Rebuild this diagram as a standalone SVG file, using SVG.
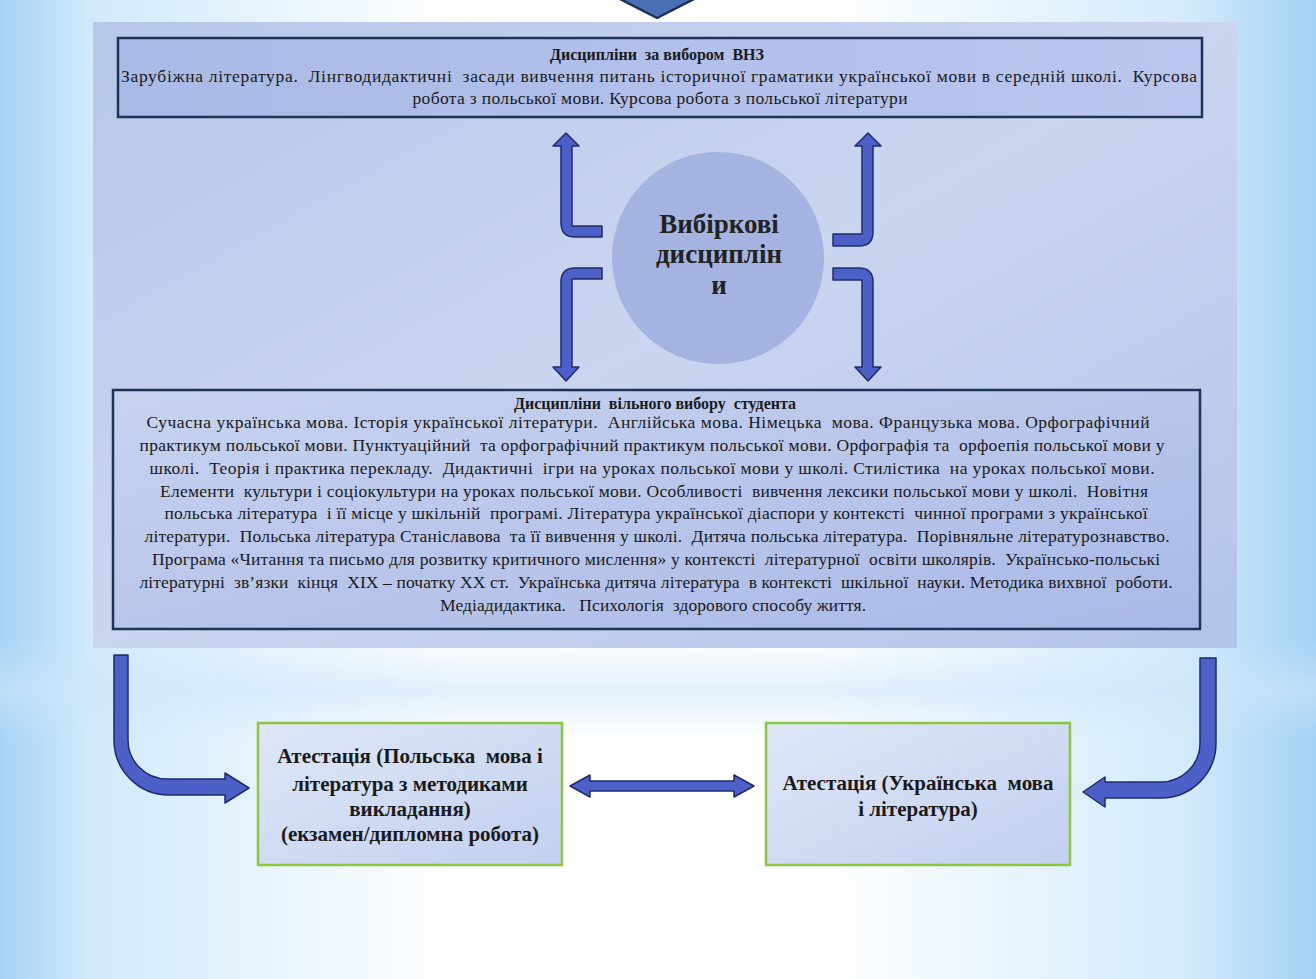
<svg xmlns="http://www.w3.org/2000/svg" width="1316" height="979" viewBox="0 0 1316 979">
<defs>
<linearGradient id="bg" x1="0" y1="0" x2="1" y2="0">
<stop offset="0" stop-color="#a6d3f5"/>
<stop offset="0.07" stop-color="#d2eafb"/>
<stop offset="0.35" stop-color="#ffffff"/>
<stop offset="0.62" stop-color="#ffffff"/>
<stop offset="0.9" stop-color="#d4ebfb"/>
<stop offset="1" stop-color="#a3d1f4"/>
</linearGradient>
<linearGradient id="band" x1="0" y1="0" x2="0" y2="1">
<stop offset="0" stop-color="#cfe6fa" stop-opacity="0"/>
<stop offset="0.5" stop-color="#cfe6fa" stop-opacity="0.6"/>
<stop offset="1" stop-color="#cfe6fa" stop-opacity="0"/>
</linearGradient>
<linearGradient id="panel" x1="0" y1="0" x2="1" y2="1">
<stop offset="0" stop-color="#b7c7ea"/>
<stop offset="0.5" stop-color="#cad5ef"/>
<stop offset="1" stop-color="#b3c3e9"/>
</linearGradient>
<linearGradient id="topbox" x1="0" y1="0" x2="1" y2="0">
<stop offset="0" stop-color="#a9bae6"/>
<stop offset="1" stop-color="#bac6ee"/>
</linearGradient>
<linearGradient id="botbox" x1="0" y1="0" x2="1" y2="1">
<stop offset="0" stop-color="#c8d3f0"/>
<stop offset="1" stop-color="#a9b9e6"/>
</linearGradient>
<linearGradient id="greenbox" x1="0" y1="0" x2="1" y2="1">
<stop offset="0" stop-color="#dfe7f7"/>
<stop offset="1" stop-color="#c2d0ef"/>
</linearGradient>
<style>
.t{font-family:"Liberation Serif","Times New Roman",serif;fill:#1a1a1a;white-space:pre}
.s{font-size:17.5px}
.b{font-weight:bold}
.c{font-size:27px;font-weight:bold;fill:#222}
.g{font-size:21px;font-weight:bold}
.box{stroke:#1c3557;stroke-width:2.5}
.gbox{fill:url(#greenbox);stroke:#8dc63f;stroke-width:2.5}
.arr{fill:#4d60c8;stroke:#1f2b6e;stroke-width:1.5;stroke-linejoin:round}
</style>
</defs>
<rect x="0" y="0" width="1316" height="979" fill="url(#bg)"/>
<rect x="0" y="640" width="1316" height="100" fill="url(#band)"/>
<polygon points="618,-2 696,-2 657,18" fill="#4a6fb5" stroke="#1d3158" stroke-width="2.5" stroke-linejoin="round"/>
<rect id="panel-bg" x="93" y="22" width="1144" height="626" fill="url(#panel)"/>

<g id="node-vnz">
<rect class="box" x="118" y="38" width="1084" height="79" fill="url(#topbox)"/>
<text class="t b" x="657" y="60" text-anchor="middle" font-size="16">Дисципліни  за вибором  ВНЗ</text>
<text class="t s" x="659" y="82" text-anchor="middle" textLength="1076" lengthAdjust="spacing">Зарубіжна література.  Лінгводидактичні  засади вивчення питань історичної граматики української мови в середній школі.  Курсова</text>
<text class="t s" x="660" y="104" text-anchor="middle" textLength="495" lengthAdjust="spacing">робота з польської мови. Курсова робота з польської літератури</text>
</g>

<g id="node-center">
<circle cx="718" cy="258" r="106" fill="#a4b3e0"/>
<text class="t c" x="719" y="233" text-anchor="middle">Вибіркові</text>
<text class="t c" x="719" y="263" text-anchor="middle">дисциплін</text>
<text class="t c" x="719" y="294" text-anchor="middle">и</text>
</g>

<g id="node-student">
<rect class="box" x="113" y="390" width="1087" height="239" fill="url(#botbox)"/>
<text class="t b" x="655" y="409" text-anchor="middle" font-size="16">Дисципліни  вільного вибору  студента</text>
<text class="t s" x="648" y="428" text-anchor="middle" textLength="1003" lengthAdjust="spacing">Сучасна українська мова. Історія української літератури.  Англійська мова. Німецька  мова. Французька мова. Орфографічний</text>
<text class="t s" x="652" y="451" text-anchor="middle" textLength="1025" lengthAdjust="spacing">практикум польської мови. Пунктуаційний  та орфографічний практикум польської мови. Орфографія та  орфоепія польської мови у</text>
<text class="t s" x="652" y="474" text-anchor="middle" textLength="1005" lengthAdjust="spacing">школі.  Теорія і практика перекладу.  Дидактичні  ігри на уроках польської мови у школі. Стилістика  на уроках польської мови.</text>
<text class="t s" x="654" y="497" text-anchor="middle" textLength="988" lengthAdjust="spacing">Елементи  культури і соціокультури на уроках польської мови. Особливості  вивчення лексики польської мови у школі.  Новітня</text>
<text class="t s" x="656" y="519" text-anchor="middle" textLength="983" lengthAdjust="spacing">польська література  і її місце у шкільній  програмі. Література української діаспори у контексті  чинної програми з української</text>
<text class="t s" x="657" y="542" text-anchor="middle" textLength="1025" lengthAdjust="spacing">літератури.  Польська література Станіславова  та її вивчення у школі.  Дитяча польська література.  Порівняльне літературознавство.</text>
<text class="t s" x="656" y="565" text-anchor="middle" textLength="1008" lengthAdjust="spacing">Програма «Читання та письмо для розвитку критичного мислення» у контексті  літературної  освіти школярів.  Українсько-польські</text>
<text class="t s" x="656" y="588" text-anchor="middle" textLength="1033" lengthAdjust="spacing">літературні  зв’язки  кінця  XIX – початку XX ст.  Українська дитяча література  в контексті  шкільної  науки. Методика вихвної  роботи.</text>
<text class="t s" x="653" y="611" text-anchor="middle" textLength="426" lengthAdjust="spacing">Медіадидактика.   Психологія  здорового способу життя.</text>
</g>

<g id="node-att-polish">
<rect class="gbox" x="258" y="723" width="304" height="142"/>
<text class="t g" x="410" y="763" text-anchor="middle">Атестація (Польська  мова і</text>
<text class="t g" x="410" y="791" text-anchor="middle">література з методиками</text>
<text class="t g" x="410" y="816" text-anchor="middle">викладання)</text>
<text class="t g" x="410" y="841" text-anchor="middle">(екзамен/дипломна робота)</text>
</g>

<g id="node-att-ukr">
<rect class="gbox" x="766" y="723" width="304" height="142"/>
<text class="t g" x="918" y="790" text-anchor="middle">Атестація (Українська  мова</text>
<text class="t g" x="918" y="816" text-anchor="middle">і література)</text>
</g>

<g id="connectors">
<path class="arr" d="M566,133 L579,146 L572,146 L572,226 L602,226 L602,237 L575,237 Q561,237 561,223 L561,146 L553,146 Z"/>
<path class="arr" d="M602,268 L575,268 Q561,268 561,282 L561,367 L553,367 L566,381 L579,367 L572,367 L572,279 L602,279 Z"/>
<path class="arr" d="M868,133 L881,146 L873,146 L873,232 Q873,246 859,246 L833,246 L833,234 L862,234 L862,146 L855,146 Z"/>
<path class="arr" d="M833,268 L859,268 Q873,268 873,282 L873,367 L881,367 L868,381 L855,367 L862,367 L862,280 L833,280 Z"/>
<path class="arr" d="M114,655 L128,655 L128,740 A39,39 0 0 0 167,779 L225,779 L225,773 L249,788 L225,803 L225,795 L169,795 A55,55 0 0 1 114,740 Z"/>
<path class="arr" d="M1200,658 L1216,658 L1216,743 A55,55 0 0 1 1161,798 L1105,798 L1105,807 L1083,792 L1105,777 L1105,782 L1161,782 A39,39 0 0 0 1200,743 Z"/>
<path class="arr" d="M570,786 L590,775 L590,781 L734,781 L734,775 L754,786 L734,797 L734,791 L590,791 L590,797 Z"/>
</g>
</svg>
